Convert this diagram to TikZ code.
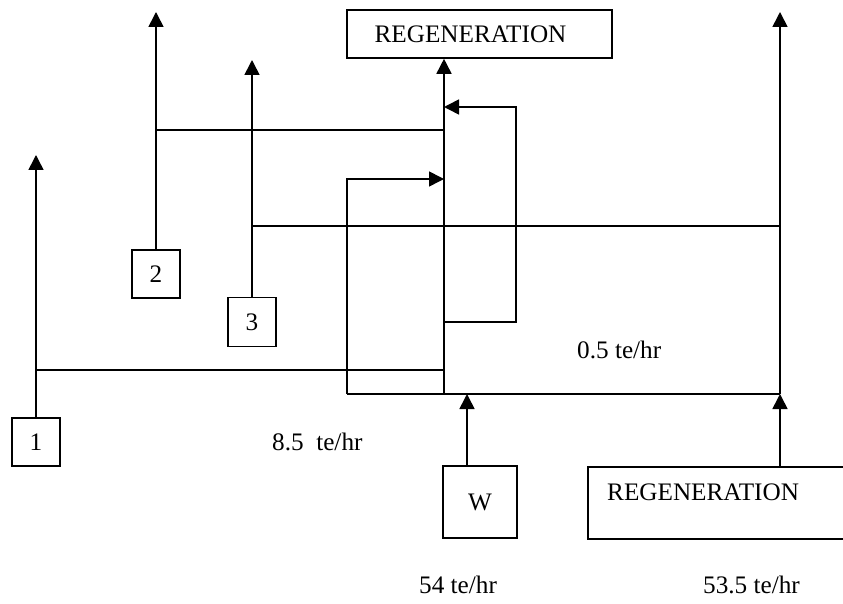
\documentclass[tikz,border=0pt]{standalone}
\usepackage{fontspec}
\setmainfont{Liberation Serif}
\usetikzlibrary{arrows.meta}
\begin{document}
\begin{tikzpicture}[x=1pt,y=-1pt,
  every node/.style={font=\fontsize{25.2}{30}\selectfont},
  box/.style={draw,line width=1.6pt,inner sep=0pt},
  ln/.style={line width=1.6pt},
  arr/.style={line width=1.6pt,-{Triangle[length=15pt,width=15pt]}},
  lbl/.style={inner sep=0pt}]
\useasboundingbox (0,0) rectangle (843,604);
\clip (0,0) rectangle (843,604);
% boxes
\node[box,minimum width=265pt,minimum height=48pt] (regT) at (479.5,34) {};
\node[lbl] (regTtxt) at (470.5,34) {REGENERATION};
\node[box,minimum width=48pt,minimum height=48pt] (b1) at (36,442) {1};
\node[box,minimum width=48pt,minimum height=48pt] (b2) at (156,274) {2};
\node[box,minimum width=48pt,minimum height=49pt] (b3) at (252,322) {3};
\node[box,minimum width=74pt,minimum height=72pt] (W) at (480,502) {W};
\node[box,minimum width=270pt,minimum height=72pt,anchor=north west] (regB) at (587,466) {};
\node[lbl,anchor=west] (regBtxt) at (607,492) {REGENERATION};
% labels
\node[lbl,anchor=west] (l05) at (577,350) {0.5 te/hr};
\node[lbl,anchor=west] (l85) at (272,442) {8.5\ \ te/hr};
\node[lbl,anchor=west] (l54) at (419,585) {54 te/hr};
\node[lbl,anchor=west] (l535) at (703,585) {53.5 te/hr};
% coordinates
\coordinate (t1) at (36,155);
\coordinate (t2) at (156,12);
\coordinate (t3) at (252,60);
\coordinate (tR) at (780,12);
\coordinate (j1) at (36,370);
\coordinate (j2) at (156,130);
\coordinate (j3) at (252,226);
\coordinate (m1) at (444,370);
\coordinate (m2) at (444,130);
\coordinate (mb) at (444,394);
\coordinate (lb) at (347,394);
\coordinate (rb) at (780,394);
\coordinate (wb) at (467,394);
\coordinate (la) at (347,179);
\coordinate (ma) at (444,179);
\coordinate (ra) at (516,107);
\coordinate (mra) at (444,107);
\coordinate (rl) at (516,322);
\coordinate (mrl) at (444,322);
\coordinate (r3) at (780,226);
% connectors
\draw[arr] (b1.north) -- (t1);
\draw[ln] (j1) -- (m1);
\draw[arr] (b2.north) -- (t2);
\draw[ln] (j2) -- (m2);
\draw[arr] (b3.north) -- (t3);
\draw[ln] (j3) -- (r3);
\draw[arr] (mb) -- (mb |- regT.south);
\draw[arr] (mrl) -- (rl) -- (ra) -- (mra);
\draw[arr] (lb) -- (la) -- (ma);
\draw[ln] (lb) -- (rb);
\draw[arr] (wb |- W.north) -- (wb);
\draw[arr] (rb |- regB.north) -- (rb);
\draw[arr] (rb) -- (tR);
\end{tikzpicture}
\end{document}
